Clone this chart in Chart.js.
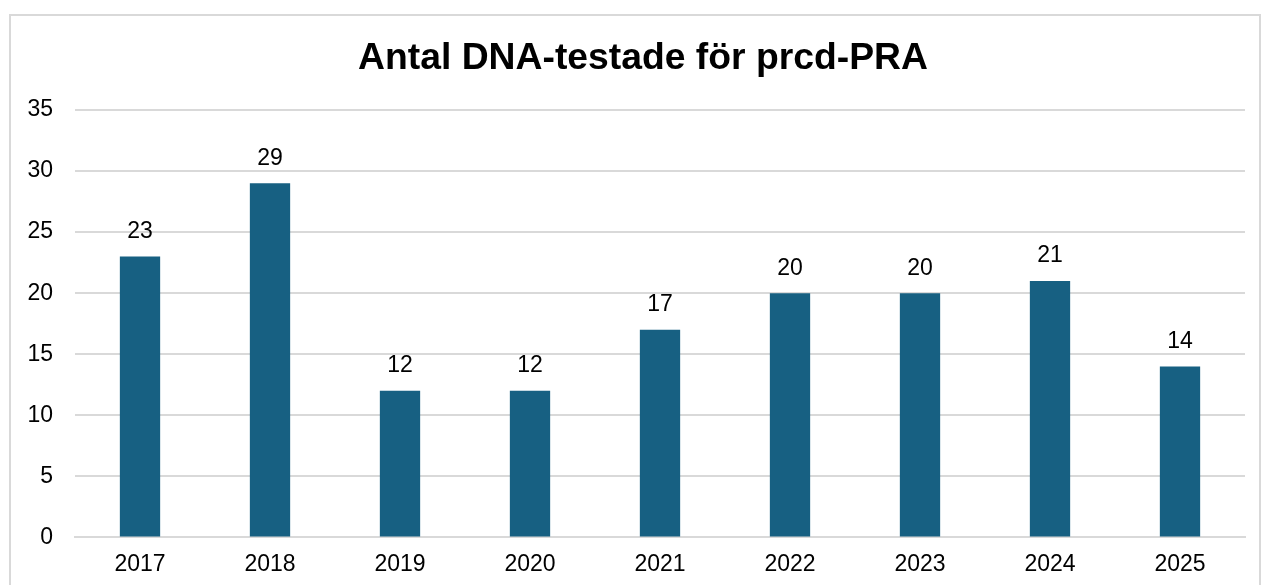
<!DOCTYPE html>
<html>
<head>
<meta charset="utf-8">
<script src="https://cdn.jsdelivr.net/npm/chart.js@4"></script>
<style>
  body { margin: 0; background: #fff; }
  #frame { position: absolute; left: 9px; top: 14px; width: 1248px; height: 600px; border: 2px solid #d9d9d9; }
  #wrap { position: absolute; left: 0; top: 0; width: 1261px; height: 585px; }
</style>
</head>
<body>
<div id="frame"></div>
<div id="wrap"><canvas id="chart" width="1261" height="585"></canvas></div>
<script>
// -------------------- Data --------------------
const years = ["2017", "2018", "2019", "2020", "2021", "2022", "2023", "2024", "2025"];
const tested = [23, 29, 12, 12, 17, 20, 20, 21, 14];
const titleText = "Antal DNA-testade för prcd-PRA";

const fontFamily = "'Liberation Sans', Arial, sans-serif";

// value labels above the bars + title centred like the original
const barLabels = {
  id: "barLabels",
  afterDatasetsDraw(chart) {
    const ctx = chart.ctx;
    const meta = chart.getDatasetMeta(0);
    ctx.save();
    ctx.font = "23px " + fontFamily;
    ctx.fillStyle = "#000";
    ctx.textAlign = "center";
    ctx.textBaseline = "middle";
    meta.data.forEach((bar, i) => {
      ctx.fillText(tested[i], bar.x, bar.y - 25);
    });

    ctx.font = "bold 37.3px " + fontFamily;
    ctx.fillText(titleText, 643, 59);
    ctx.restore();
  }
};

new Chart(document.getElementById("chart"), {
  type: "bar",
  data: {
    labels: years,
    datasets: [{
      data: tested,
      backgroundColor: "#176082",
      barPercentage: 0.62,
      categoryPercentage: 0.5
    }]
  },
  options: {
    responsive: false,
    animation: false,
    layout: { padding: { left: 0, right: 16, top: 110, bottom: 2 } },
    plugins: {
      legend: { display: false },
      tooltip: { enabled: false },
      title: { display: false }
    },
    scales: {
      x: {
        grid: { display: false },
        border: { display: true, color: "#d9d9d9", width: 2 },
        ticks: { color: "#000", font: { family: fontFamily, size: 23 }, padding: 5, maxRotation: 0 }
      },
      y: {
        min: 0,
        max: 35,
        afterFit(scale) { scale.width = 75; },
        grid: { color: "#d9d9d9", lineWidth: 2, drawTicks: false },
        border: { display: false },
        ticks: { stepSize: 5, color: "#000", font: { family: fontFamily, size: 23 }, padding: 22 }
      }
    }
  },
  plugins: [barLabels]
});
</script>
</body>
</html>
